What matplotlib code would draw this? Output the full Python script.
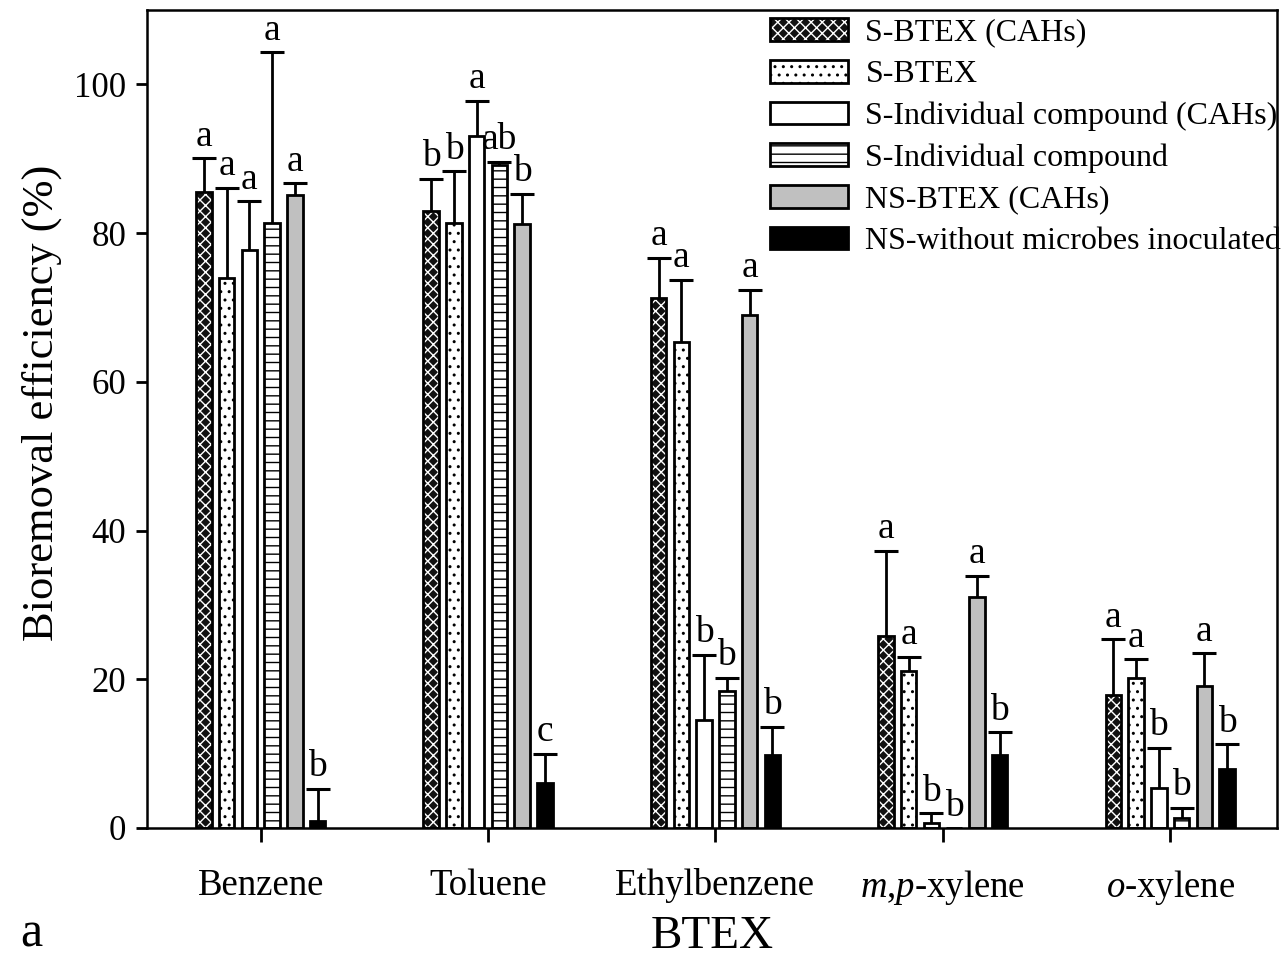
import numpy as np
import matplotlib
matplotlib.use('Agg')
import matplotlib.pyplot as plt
from matplotlib.legend_handler import HandlerTuple

plt.rcParams['font.family'] = ['Liberation Serif', 'DejaVu Serif']
plt.rcParams['mathtext.fontset'] = 'custom'
plt.rcParams['mathtext.rm'] = 'Liberation Serif'
plt.rcParams['mathtext.it'] = 'Liberation Serif:italic'
plt.rcParams['hatch.linewidth'] = 1.0

# data
categories = ['Benzene', 'Toluene', 'Ethylbenzene',
              r'$\mathit{m}$,$\mathit{p}$-xylene', r'$\mathit{o}$-xylene']
series_names = ['S-BTEX (CAHs)', 'S-BTEX', 'S-Individual compound (CAHs)',
                'S-Individual compound', 'NS-BTEX (CAHs)',
                'NS-without microbes inoculated']

s_btex_cah = [85.5, 83.0, 71.3, 25.8, 17.9]
s_btex_cah_err = [4.6, 4.3, 5.4, 11.5, 7.5]
s_btex = [74.0, 81.3, 65.4, 21.1, 20.2]
s_btex_err = [12.1, 7.0, 8.3, 1.9, 2.5]
s_ind_cah = [77.7, 93.0, 14.5, 0.7, 5.4]
s_ind_cah_err = [6.6, 4.8, 8.8, 1.3, 5.4]
s_ind = [81.3, 89.1, 18.4, 0.0, 1.3]
s_ind_err = [23.0, 0.5, 1.8, 0.0, 1.4]
ns_btex_cah = [85.1, 81.2, 69.0, 31.1, 19.1]
ns_btex_cah_err = [1.6, 4.1, 3.4, 2.8, 4.4]
ns_none = [1.0, 6.0, 9.8, 9.8, 7.9]
ns_none_err = [4.3, 4.0, 3.8, 3.1, 3.4]

letters = [
    ['a', 'b', 'a', 'a', 'a'],
    ['a', 'b', 'a', 'a', 'a'],
    ['a', 'a', 'b', 'b', 'b'],
    ['a', 'ab', 'b', 'b', 'b'],
    ['a', 'b', 'a', 'a', 'a'],
    ['b', 'c', 'b', 'b', 'b'],
]

values = [s_btex_cah, s_btex, s_ind_cah, s_ind, ns_btex_cah, ns_none]
errors = [s_btex_cah_err, s_btex_err, s_ind_cah_err, s_ind_err,
          ns_btex_cah_err, ns_none_err]

# (face, hatch colour, hatch)
styles = [('#111111', 'white', 'xxx'),
          ('white', 'black', '..'),
          ('white', 'black', None),
          ('white', 'black', '--'),
          ('#c0c0c0', 'black', None),
          ('black', 'black', None)]

fig = plt.figure(figsize=(12.85, 9.6), dpi=100)
ax = fig.add_axes([0.1144, 0.1375, 0.8794, 0.8521])

x = np.arange(len(categories))
pitch = 0.1
width = 0.068
handles = []
for i, (vals, errs) in enumerate(zip(values, errors)):
    face, hcol, hatch = styles[i]
    xi = x + (i - 2.5) * pitch
    vals = np.array(vals)
    errs = np.array(errs)
    b1 = ax.bar(xi, vals, width, color=face, edgecolor=hcol, hatch=hatch,
                linewidth=0, zorder=2)
    b2 = ax.bar(xi, vals, width, facecolor='none', edgecolor='black',
                linewidth=2.0, zorder=3)
    handles.append((b1.patches[0], b2.patches[0]))
    top = vals + errs
    ax.vlines(xi, vals, top, color='black', linewidth=2.0, zorder=1)
    ax.plot(xi[errs > 0], top[errs > 0], ls='none', marker='_', ms=17,
            mew=2.2, color='black', zorder=1)
    for xx, tt, lab in zip(xi, top, letters[i]):
        ax.text(xx, tt + 0.6, lab, ha='center', va='bottom', fontsize=27)

ax.set_xlim(-0.5, 4.47)
ax.set_ylim(0, 110)
ax.set_yticks([0, 20, 40, 60, 80, 100])
ax.set_xticks(x)
ax.set_xticklabels(categories)
ax.tick_params(axis='x', direction='out', length=10, width=2, pad=19,
               labelsize=26.5)
ax.tick_params(axis='y', direction='out', length=8, width=2, pad=7,
               labelsize=25)
for sp in ax.spines.values():
    sp.set_linewidth(1.8)

ax.set_ylabel('Bioremoval efficiency (%)', fontsize=32)
ax.yaxis.set_label_coords(-0.075, 0.52)
ax.set_xlabel('BTEX', fontsize=34, labelpad=6)
fig.text(0.016, 0.014, 'a', fontsize=36)

ax.legend(handles, series_names, handler_map={tuple: HandlerTuple(ndivide=1)},
          loc='upper left', bbox_to_anchor=(0.551, 0.99), frameon=False,
          fontsize=23, handlelength=2.45, handleheight=0.72,
          labelspacing=0.38, handletextpad=0.55, borderpad=0,
          borderaxespad=0)

fig.savefig('out.png', dpi=100)
